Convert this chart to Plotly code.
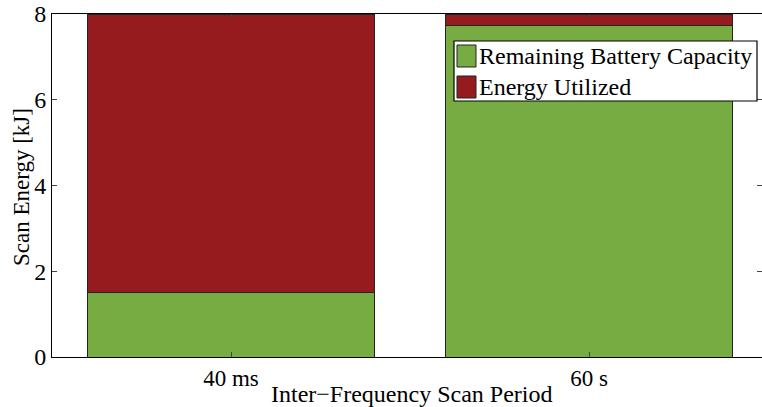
import plotly.graph_objects as go

categories = ["40 ms", "60 s"]
series_names = ["Remaining Battery Capacity", "Energy Utilized"]
remaining = [1.5, 7.74]
utilized = [6.5, 0.26]

green = "#77AC43"
red = "#951B1F"
font = "Liberation Serif, Times New Roman, serif"

fig = go.Figure()
fig.add_bar(x=[0, 1], y=remaining, name=series_names[0],
            marker=dict(color=green, line=dict(color="#222", width=1)), width=0.8)
fig.add_bar(x=[0, 1], y=utilized, name=series_names[1],
            marker=dict(color=red, line=dict(color="#222", width=1)), width=0.8)

W, H = 762, 407
L, R, T, B = 52, 0, 14, 50
pw, ph = W - L - R, H - T - B


def px(x):
    return (x - L) / pw


def py(y):
    return (H - B - y) / ph


shapes = [
    dict(type="rect", xref="paper", yref="paper", x0=px(454), x1=px(757), y0=py(101), y1=py(41),
         fillcolor="white", line=dict(color="black", width=1.2), layer="above"),
]
annotations = []
for i, (name, col) in enumerate(zip(series_names, [green, red])):
    yc = 56 + i * 31
    shapes.append(dict(type="rect", xref="paper", yref="paper", x0=px(457), x1=px(476),
                       y0=py(yc + 11), y1=py(yc - 11), fillcolor=col,
                       line=dict(color="#222", width=1), layer="above"))
    annotations.append(dict(text=name, xref="paper", yref="paper", x=px(477), y=py(yc),
                            xanchor="left", yanchor="middle", showarrow=False,
                            font=dict(size=24, family=font, color="black")))

annotations.append(dict(text="Inter\u2212Frequency Scan Period", xref="paper", yref="paper",
                        x=px(411), y=py(394), xanchor="center", yanchor="middle", showarrow=False,
                        font=dict(size=24, family=font, color="black")))
annotations.append(dict(text="Scan Energy [kJ]", xref="paper", yref="paper", textangle=-90,
                        x=px(22), y=py(187), xanchor="center", yanchor="middle", showarrow=False,
                        font=dict(size=23, family=font, color="black")))

fig.update_layout(
    barmode="stack",
    width=W, height=H,
    margin=dict(l=L, r=R, t=T, b=B),
    paper_bgcolor="white", plot_bgcolor="white",
    font=dict(family=font, size=23, color="black"),
    showlegend=False,
    shapes=shapes,
    annotations=annotations,
    xaxis=dict(range=[-0.5, 1.483], tickvals=[0, 1], ticktext=categories,
               ticks="inside", ticklen=5, showline=True, linecolor="black", linewidth=1,
               mirror="ticks", showgrid=False, zeroline=False,
               tickfont=dict(size=23)),
    yaxis=dict(range=[0, 8], tickvals=[0, 2, 4, 6, 8], ticks="inside", ticklen=5,
               showline=True, linecolor="black", linewidth=1, mirror="ticks",
               showgrid=False, zeroline=False,
               tickfont=dict(size=24)),
)

fig.write_html("out.html")
